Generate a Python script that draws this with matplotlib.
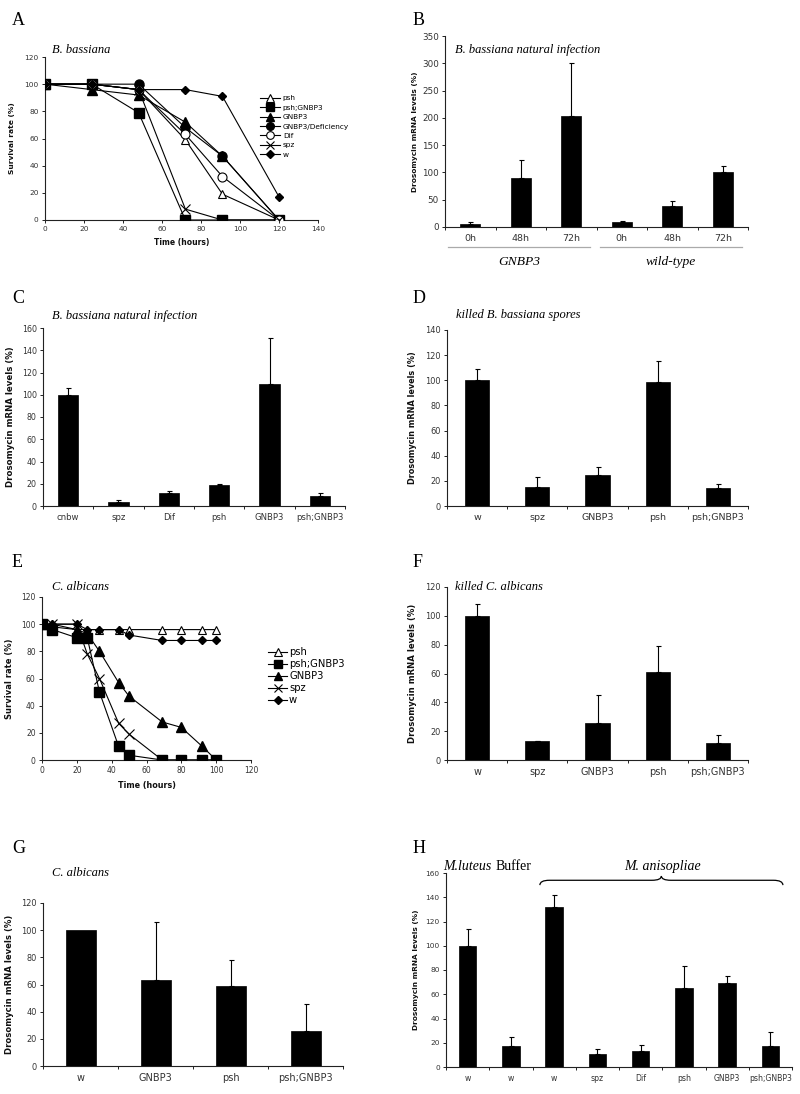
import matplotlib
matplotlib.use('Agg')
import matplotlib.pyplot as plt
import numpy as np
from matplotlib.path import Path
from matplotlib.patches import PathPatch
from matplotlib.ticker import MultipleLocator

# ---------------- data ----------------
# Panel A: B. bassiana survival
a_time = [0, 24, 48, 72, 91, 120]
a_psh = [100, 100, 96, 59, 19, 0]
a_psh_gnbp3 = [100, 100, 79, 0, 0, 0]
a_gnbp3 = [100, 96, 92, 72, 47, 0]
a_gnbp3_def = [100, 100, 100, 68, 47, 0]
a_dif = [100, 100, 96, 63, 32, 0]
a_spz = [100, 100, 96, 8, 0, 0]
a_w = [100, 100, 96, 96, 91, 17]

# Panel B
b_labels = ['0h', '48h', '72h', '0h', '48h', '72h']
b_vals = [6, 90, 203, 9, 38, 100]
b_errs = [3, 32, 97, 2, 9, 12]
b_groups = ['GNBP3', 'wild-type']

# Panel C
c_labels = ['cnbw', 'spz', 'Dif', 'psh', 'GNBP3', 'psh;GNBP3']
c_vals = [100, 4, 12, 19, 110, 9]
c_errs = [6, 1, 1.5, 0.5, 41, 3]

# Panel D
d_labels = ['w', 'spz', 'GNBP3', 'psh', 'psh;GNBP3']
d_vals = [100, 15, 24.5, 99, 14]
d_errs = [9, 8, 6.5, 16, 3.5]

# Panel E: C. albicans survival
e_time = [0, 6, 20, 26, 33, 44, 50, 69, 80, 92, 100]
e_psh = [100, 100, 96, 96, 96, 96, 96, 96, 96, 96, 96]
e_psh_gnbp3 = [100, 96, 90, 90, 50, 10, 3.5, 0, 0, 0, 0]
e_gnbp3 = [100, 98, 96, 93, 80, 57, 47, 28, 24, 10, 0]
e_spz = [100, 100, 100, 78, 60, 27, 19, 0, 0, 0, 0]
e_w = [100, 100, 100, 96, 96, 96, 92, 88, 88, 88, 88]

# Panel F
f_labels = ['w', 'spz', 'GNBP3', 'psh', 'psh;GNBP3']
f_vals = [100, 13, 26, 61, 12]
f_errs = [8, 0.5, 19, 18, 5]

# Panel G
g_labels = ['w', 'GNBP3', 'psh', 'psh;GNBP3']
g_vals = [100, 63, 59, 26]
g_errs = [0, 43, 19, 20]

# Panel H
h_labels = ['w', 'w', 'w', 'spz', 'Dif', 'psh', 'GNBP3', 'psh;GNBP3']
h_vals = [100, 17, 132, 10.5, 13, 65, 69, 17]
h_errs = [14, 8, 9.5, 4, 5, 18, 6, 12]

# ---------------- figure ----------------
W, H = 800, 1094
fig = plt.figure(figsize=(W / 100, H / 100), dpi=100)
fig.patch.set_facecolor('white')

SERIF = 'Liberation Serif'
SANS = 'DejaVu Sans'
plt.rcParams['font.family'] = SANS
TICKC = '#333333'


def add_ax(l, t, r, b):
    return fig.add_axes([l / W, 1 - b / H, (r - l) / W, (b - t) / H])


def style_axes(ax):
    for s in ['top', 'right']:
        ax.spines[s].set_visible(False)
    for s in ['left', 'bottom']:
        ax.spines[s].set_linewidth(0.8)
        ax.spines[s].set_color('#222222')
    ax.tick_params(which='both', direction='out', length=2.5, width=0.7, color='#222222',
                   labelcolor=TICKC)


def set_ylabel_px(ax, text, xpx, l, r, fs):
    ax.set_ylabel(text, fontsize=fs, fontweight='bold', color='#111111')
    ax.yaxis.set_label_coords((xpx - l) / (r - l), 0.5)


def fig_text(xpx, ypx, s, **kw):
    fig.text(xpx / W, 1 - ypx / H, s, va='baseline', **kw)


def bar_panel(box, labels, vals, errs, ymax, ystep, tick_fs, xl_fs, yl_fs, ylab_x):
    l, t, r, b = box
    ax = add_ax(l, t, r, b)
    style_axes(ax)
    n = len(labels)
    x = np.arange(n)
    ax.bar(x, vals, width=0.4, color='black', edgecolor='black', linewidth=0.5, zorder=3)
    errs = np.asarray(errs, dtype=float)
    m = errs > 0
    ax.errorbar(x[m], np.asarray(vals)[m], yerr=[np.zeros(m.sum()), errs[m]], fmt='none',
                ecolor='black', elinewidth=0.8, capsize=1.8, capthick=0.8, zorder=2)
    ax.set_xlim(-0.5, n - 0.5)
    ax.set_ylim(0, ymax)
    ax.yaxis.set_major_locator(MultipleLocator(ystep))
    ax.set_xticks(x)
    ax.set_xticklabels(labels, fontsize=xl_fs)
    ax.set_xticks(np.arange(n + 1) - 0.5, minor=True)
    ax.tick_params(axis='x', which='major', length=0, pad=5)
    ax.tick_params(axis='y', labelsize=tick_fs, pad=2)
    set_ylabel_px(ax, 'Drosomycin mRNA levels (%)', ylab_x, l, r, yl_fs)
    return ax


# ---------- Panel A ----------
boxA = (45, 57, 318, 220)
axA = add_ax(*boxA)
style_axes(axA)
lw = 0.8
axA.plot(a_time, a_psh, '-', color='black', lw=lw, marker='^', ms=6, mfc='white', mec='black', mew=0.8, label='psh', zorder=3)
axA.plot(a_time, a_psh_gnbp3, '-', color='black', lw=lw, marker='s', ms=7, mfc='black', mec='black', label='psh;GNBP3', zorder=3)
axA.plot(a_time, a_gnbp3, '-', color='black', lw=lw, marker='^', ms=6.5, mfc='black', mec='black', label='GNBP3', zorder=3)
axA.plot(a_time, a_gnbp3_def, '-', color='black', lw=lw, marker='o', ms=6.5, mfc='black', mec='black', label='GNBP3/Deficiency', zorder=3)
axA.plot(a_time, a_dif, '-', color='black', lw=lw, marker='o', ms=6.5, mfc='white', mec='black', mew=0.8, label='Dif', zorder=3)
axA.plot(a_time, a_spz, '-', color='black', lw=lw, marker='x', ms=7, mec='black', mew=0.8, label='spz', zorder=3)
axA.plot(a_time, a_w, '-', color='black', lw=lw, marker='D', ms=4.3, mfc='black', mec='black', label='w', zorder=3)
axA.set_xlim(0, 140)
axA.set_ylim(0, 120)
axA.xaxis.set_major_locator(MultipleLocator(20))
axA.yaxis.set_major_locator(MultipleLocator(20))
axA.tick_params(labelsize=5.3, pad=2)
axA.set_xlabel('Time (hours)', fontsize=5.5, fontweight='bold', labelpad=4, color='#111111')
set_ylabel_px(axA, 'Survival rate (%)', 15, boxA[0], boxA[2], 5.4)
axA.legend(loc='upper left', bbox_to_anchor=(260 / W, 1 - 95 / H), bbox_transform=fig.transFigure,
           frameon=False, fontsize=5.3, handlelength=2.7, handletextpad=0.4, labelspacing=0.45,
           borderpad=0, borderaxespad=0, markerscale=0.85)

# ---------- Panel B ----------
boxB = (445, 36, 748, 227)
axB = bar_panel(boxB, b_labels, b_vals, b_errs, 350, 50, 6.3, 6.8, 5.3, 418)
trB = axB.get_xaxis_transform()
for gi, gname in enumerate(b_groups):
    i0, i1 = gi * 3, gi * 3 + 2
    axB.plot([i0 - 0.44, i1 + 0.38], [-0.105, -0.105], transform=trB, color='#aaaaaa', lw=0.9, clip_on=False)
    axB.text((i0 + i1) / 2 - 0.03, -0.183, gname, transform=trB, ha='center', va='center',
             family=SERIF, style='italic', fontsize=9.7)

# ---------- Panel C ----------
bar_panel((43, 328, 345, 506), c_labels, c_vals, c_errs, 160, 20, 5.7, 6.1, 6.2, 15)

# ---------- Panel D ----------
bar_panel((447, 330, 748, 506), d_labels, d_vals, d_errs, 140, 20, 5.9, 6.8, 5.9, 417)

# ---------- Panel E ----------
boxE = (42, 597, 251, 760)
axE = add_ax(*boxE)
style_axes(axE)
axE.plot(e_time, e_psh, '-', color='black', lw=lw, marker='^', ms=6, mfc='white', mec='black', mew=0.8, label='psh', zorder=3)
axE.plot(e_time, e_psh_gnbp3, '-', color='black', lw=lw, marker='s', ms=7, mfc='black', mec='black', label='psh;GNBP3', zorder=3)
axE.plot(e_time, e_gnbp3, '-', color='black', lw=lw, marker='^', ms=6.5, mfc='black', mec='black', label='GNBP3', zorder=3)
axE.plot(e_time, e_spz, '-', color='black', lw=lw, marker='x', ms=7, mec='black', mew=0.8, label='spz', zorder=3)
axE.plot(e_time, e_w, '-', color='black', lw=lw, marker='D', ms=4.3, mfc='black', mec='black', label='w', zorder=3)
axE.set_xlim(0, 120)
axE.set_ylim(0, 120)
axE.xaxis.set_major_locator(MultipleLocator(20))
axE.yaxis.set_major_locator(MultipleLocator(20))
axE.tick_params(labelsize=5.5, pad=2)
axE.set_xlabel('Time (hours)', fontsize=5.8, fontweight='bold', labelpad=4, color='#111111')
set_ylabel_px(axE, 'Survival rate (%)', 14, boxE[0], boxE[2], 6.0)
axE.legend(loc='upper left', bbox_to_anchor=(268 / W, 1 - 647 / H), bbox_transform=fig.transFigure,
           frameon=False, fontsize=7.2, handlelength=1.9, handletextpad=0.2, labelspacing=0.2,
           borderpad=0, borderaxespad=0, markerscale=0.85)

# ---------- Panel F ----------
bar_panel((447, 587, 748, 760), f_labels, f_vals, f_errs, 120, 20, 5.9, 7.0, 6.1, 417)

# ---------- Panel G ----------
bar_panel((43, 903, 343, 1066), g_labels, g_vals, g_errs, 120, 20, 5.9, 7.0, 6.1, 14)

# ---------- Panel H ----------
boxH = (446, 873, 792, 1067)
axH = bar_panel(boxH, h_labels, h_vals, h_errs, 160, 20, 5.3, 5.6, 5.3, 419)
trH = axH.get_xaxis_transform()
axH.text(0, 1.015, 'M.luteus', transform=trH, ha='center', va='baseline', family=SERIF, style='italic', fontsize=10, clip_on=False)
axH.text(1.05, 1.015, 'Buffer', transform=trH, ha='center', va='baseline', family=SERIF, fontsize=10, clip_on=False)
axH.text(4.5, 1.015, 'M. anisopliae', transform=trH, ha='center', va='baseline', family=SERIF, style='italic', fontsize=10, clip_on=False)
# curly brace over the M. anisopliae group
x0, x1 = 1.67, 7.29
xm = (x0 + x1) / 2
yb, yh, yt = 150, 154, 157.5
dx = 0.22
verts = [(x0, yb), (x0, yh), (x0 + dx, yh),
         (xm - dx, yh), (xm, yh), (xm, yt),
         (xm, yh), (xm + dx, yh),
         (x1 - dx, yh), (x1, yh), (x1, yb)]
codes = [Path.MOVETO, Path.CURVE3, Path.CURVE3,
         Path.LINETO, Path.CURVE3, Path.CURVE3,
         Path.CURVE3, Path.CURVE3,
         Path.LINETO, Path.CURVE3, Path.CURVE3]
axH.add_patch(PathPatch(Path(verts, codes), facecolor='none', edgecolor='black', lw=0.9, clip_on=False))

# ---------- titles ----------
tkw = dict(family=SERIF, style='italic', fontsize=9)
fig_text(52, 53, 'B. bassiana', **tkw)
fig_text(455, 53, 'B. bassiana natural infection', **tkw)
fig_text(52, 319, 'B. bassiana natural infection', **tkw)
fig_text(456, 318, 'killed B. bassiana spores', **tkw)
fig_text(52, 590, 'C. albicans', **tkw)
fig_text(455, 590, 'killed C. albicans', **tkw)
fig_text(52, 876, 'C. albicans', **tkw)

# ---------- panel letters ----------
lkw = dict(family=SERIF, fontsize=13)
for letter, (px, py) in {'A': (12, 25), 'B': (413, 25), 'C': (12, 303), 'D': (413, 303),
                         'E': (12, 567), 'F': (413, 567), 'G': (12, 853), 'H': (413, 853)}.items():
    fig_text(px, py, letter, **lkw)

fig.savefig('out.png', dpi=100, facecolor='white')
